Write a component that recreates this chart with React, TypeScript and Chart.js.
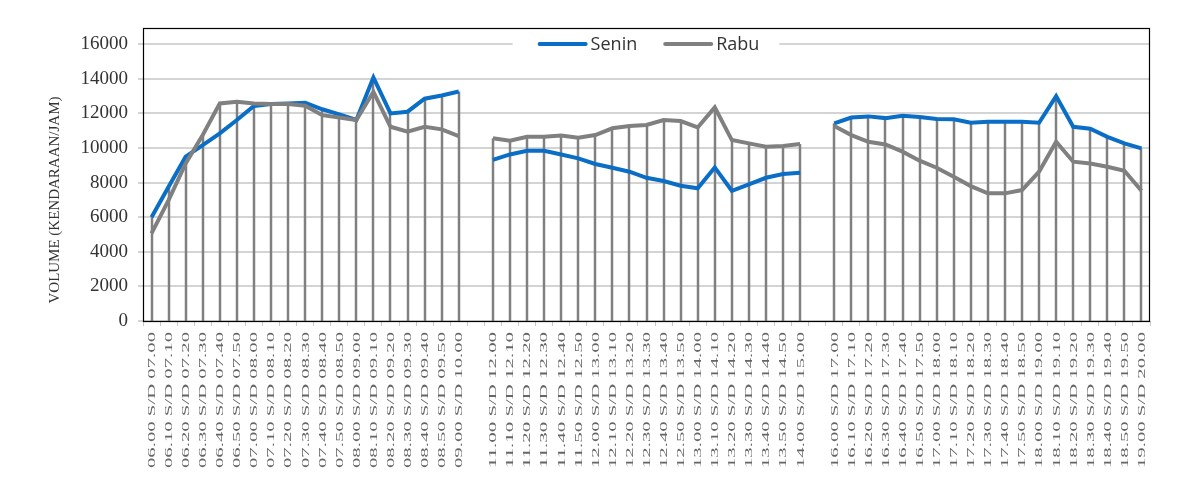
import { useEffect, useRef } from 'react';
import { Chart, registerables } from 'chart.js';

Chart.register(...registerables);

const morningLabels = [
  '06.00 S/D 07.00', '06.10 S/D 07.10', '06.20 S/D 07.20', '06.30 S/D 07.30', '06.40 S/D 07.40',
  '06.50 S/D 07.50', '07.00 S/D 08.00', '07.10 S/D 08.10', '07.20 S/D 08.20', '07.30 S/D 08.30',
  '07.40 S/D 08.40', '07.50 S/D 08.50', '08.00 S/D 09.00', '08.10 S/D 09.10', '08.20 S/D 09.20',
  '08.30 S/D 09.30', '08.40 S/D 09.40', '08.50 S/D 09.50', '09.00 S/D 10.00',
];
const middayLabels = [
  '11.00 S/D 12.00', '11.10 S/D 12.10', '11.20 S/D 12.20', '11.30 S/D 12.30', '11.40 S/D 12.40',
  '11.50 S/D 12.50', '12.00 S/D 13.00', '12.10 S/D 13.10', '12.20 S/D 13.20', '12.30 S/D 13.30',
  '12.40 S/D 13.40', '12.50 S/D 13.50', '13.00 S/D 14.00', '13.10 S/D 14.10', '13.20 S/D 14.20',
  '13.30 S/D 14.30', '13.40 S/D 14.40', '13.50 S/D 14.50', '14.00 S/D 15.00',
];
const eveningLabels = [
  '16.00 S/D 17.00', '16.10 S/D 17.10', '16.20 S/D 17.20', '16.30 S/D 17.30', '16.40 S/D 17.40',
  '16.50 S/D 17.50', '17.00 S/D 18.00', '17.10 S/D 18.10', '17.20 S/D 18.20', '17.30 S/D 18.30',
  '17.40 S/D 18.40', '17.50 S/D 18.50', '18.00 S/D 19.00', '18.10 S/D 19.10', '18.20 S/D 19.20',
  '18.30 S/D 19.30', '18.40 S/D 19.40', '18.50 S/D 19.50', '19.00 S/D 20.00',
];

const seninMorning = [6000, 7760, 9500, 10170, 10850, 11620, 12430, 12540, 12580, 12620, 12240, 11950, 11620, 14080, 12000, 12100, 12850, 13040, 13270];
const rabuMorning = [5070, 6990, 9110, 10750, 12580, 12680, 12580, 12540, 12540, 12450, 11900, 11770, 11620, 13250, 11230, 10940, 11230, 11080, 10690];
const seninMidday = [9310, 9630, 9840, 9840, 9630, 9400, 9080, 8860, 8630, 8280, 8090, 7820, 7670, 8880, 7530, 7900, 8280, 8500, 8570];
const rabuMidday = [10560, 10420, 10650, 10650, 10730, 10600, 10750, 11140, 11270, 11330, 11620, 11560, 11190, 12350, 10460, 10270, 10080, 10120, 10230];
const seninEvening = [11430, 11760, 11830, 11730, 11870, 11790, 11680, 11660, 11460, 11520, 11520, 11520, 11460, 13000, 11230, 11120, 10650, 10270, 9980];
const rabuEvening = [11270, 10750, 10360, 10210, 9790, 9270, 8860, 8340, 7800, 7380, 7380, 7570, 8630, 10360, 9210, 9110, 8920, 8690, 7530];

const yTicks = [0, 2000, 4000, 6000, 8000, 10000, 12000, 14000, 16000];
const yTitle = 'VOLUME (KENDARAAN/JAM)';
const seriesNames = ['Senin', 'Rabu'];

const labels = [...morningLabels, '', ...middayLabels, '', ...eveningLabels];
const senin = [...seninMorning, null, ...seninMidday, null, ...seninEvening];
const rabu = [...rabuMorning, null, ...rabuMidday, null, ...rabuEvening];

const BLUE = '#0a6ec6';
const GRAY = '#808080';

const customPlugin = {
  id: 'customDraw',
  beforeDatasetsDraw(chart: any) {
    const { ctx, scales } = chart;
    const x = scales.x;
    const y = scales.y;
    const a = chart.data.datasets[0].data;
    const b = chart.data.datasets[1].data;
    ctx.save();
    ctx.strokeStyle = GRAY;
    ctx.lineWidth = 2.5;
    for (let i = 0; i < labels.length; i++) {
      const vals = [a[i], b[i]].filter((v: any) => v !== null && v !== undefined);
      if (!vals.length) continue;
      const m = Math.max(...vals);
      const px = Math.round(x.getPixelForValue(i));
      ctx.beginPath();
      ctx.moveTo(px, y.getPixelForValue(m));
      ctx.lineTo(px, y.getPixelForValue(0));
      ctx.stroke();
    }
    ctx.restore();
  },
  afterDraw(chart: any) {
    const { ctx, chartArea, scales } = chart;
    const x = scales.x;
    ctx.save();
    // plot border
    ctx.strokeStyle = '#000';
    ctx.lineWidth = 1.2;
    ctx.strokeRect(chartArea.left + 0.5, chartArea.top + 0.5, chartArea.right - chartArea.left - 1, chartArea.bottom - chartArea.top);

    // legend
    ctx.font = '18px "Open Sans"';
    ctx.textBaseline = 'middle';
    ctx.textAlign = 'left';
    const lineLen = 50;
    const gapText = 3;
    const gapItem = 26;
    const widths = seriesNames.map((n) => ctx.measureText(n).width);
    const total = widths.reduce((s, w) => s + w + lineLen + gapText, 0) + gapItem;
    const cx = (chartArea.left + chartArea.right) / 2 + 2;
    const ly = chartArea.top + 16;
    let lx = cx - total / 2;
    ctx.fillStyle = '#fff';
    ctx.fillRect(lx - 25, ly - 8, total + 45, 16);
    const colors = [BLUE, GRAY];
    seriesNames.forEach((n, i) => {
      ctx.strokeStyle = colors[i];
      ctx.lineWidth = 4;
      ctx.lineCap = 'round';
      ctx.beginPath();
      ctx.moveTo(lx + 2, ly);
      ctx.lineTo(lx + lineLen - 2, ly);
      ctx.stroke();
      ctx.fillStyle = '#333';
      ctx.fillText(n, lx + lineLen + gapText, ly + 1);
      lx += lineLen + gapText + widths[i] + gapItem;
    });

    // x labels
    ctx.font = '11px "Liberation Serif"';
    ctx.fillStyle = '#666';
    ctx.textAlign = 'right';
    ctx.textBaseline = 'middle';
    labels.forEach((lab, i) => {
      if (!lab) return;
      const px = x.getPixelForValue(i);
      const w = ctx.measureText(lab).width;
      ctx.save();
      ctx.translate(px + 0.5, chartArea.bottom + 11);
      ctx.rotate(-Math.PI / 2);
      ctx.scale(136 / w, 1);
      ctx.fillText(lab, 0, 0);
      ctx.restore();
    });

    // y title
    ctx.font = '15px "Liberation Serif"';
    ctx.fillStyle = '#333';
    ctx.textAlign = 'center';
    ctx.textBaseline = 'middle';
    ctx.translate(55, 200);
    ctx.rotate(-Math.PI / 2);
    ctx.fillText(yTitle, 0, 0);
    ctx.restore();
  },
};

export default function App() {
  const ref = useRef<HTMLCanvasElement>(null);
  useEffect(() => {
    document.body.style.margin = '0';
    const chart = new Chart(ref.current!, {
      type: 'line',
      data: {
        labels,
        datasets: [
          { label: seriesNames[0], data: senin, borderColor: BLUE, backgroundColor: BLUE, borderWidth: 4, pointRadius: 0, spanGaps: false, order: 1, tension: 0 },
          { label: seriesNames[1], data: rabu, borderColor: GRAY, backgroundColor: GRAY, borderWidth: 4, pointRadius: 0, spanGaps: false, order: 0, tension: 0 },
        ],
      },
      options: {
        responsive: false,
        animation: false,
        layout: { padding: { top: 28, right: 43, left: 0, bottom: 0 } },
        plugins: { legend: { display: false }, tooltip: { enabled: false } },
        scales: {
          x: {
            offset: true,
            grid: { offset: true, drawOnChartArea: false, tickLength: 5, color: '#c8c8c8', lineWidth: 1 },
            ticks: { display: false, autoSkip: false },
            border: { display: false },
            afterFit(s: any) { s.height = 174; },
          },
          y: {
            min: 0,
            max: 16940,
            afterBuildTicks(s: any) { s.ticks = yTicks.map((v) => ({ value: v })); },
            ticks: {
              font: { family: 'Liberation Serif', size: 19 },
              color: '#333',
              padding: 10,
              callback: (v: any) => String(v),
            },
            grid: { color: '#d4d4d4', lineWidth: 2, tickLength: 5, tickColor: '#d4d4d4' },
            border: { display: false },
            afterFit(s: any) { s.width = 143; },
          },
        },
      },
      plugins: [customPlugin],
    });
    return () => chart.destroy();
  }, []);
  return <canvas ref={ref} width={1193} height={495} />;
}
